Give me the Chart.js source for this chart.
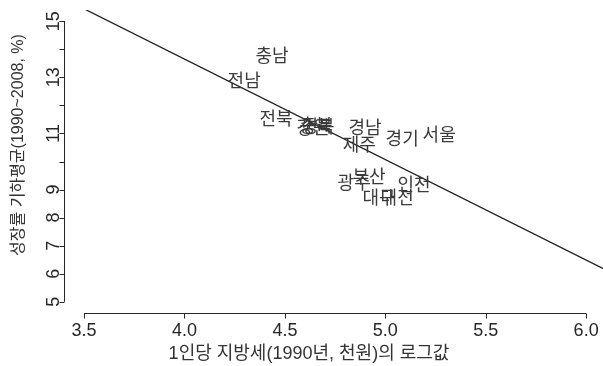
<!DOCTYPE html>
<html>
<head>
<meta charset="utf-8">
<script src="https://cdn.jsdelivr.net/npm/chart.js@4/dist/chart.umd.min.js"></script>
<style>
  html, body { margin: 0; padding: 0; background: #fff; overflow: hidden; }
  canvas { display: block; }
</style>
</head>
<body>
<canvas id="chart" width="603" height="366"></canvas>
<script>
// Regions and their values: log of per-capita local tax (1990) vs. geometric mean growth rate (1990~2008)
const regions = ['충남', '전남', '전북', '강원', '충북', '경북', '경남', '제주', '경기', '서울', '광주', '부산', '인천', '대구', '대전'];
const logTax  = [4.436, 4.297, 4.456, 4.640, 4.655, 4.665, 4.899, 4.870, 5.084, 5.268, 4.845, 4.919, 5.143, 4.969, 5.059];
const growth  = [13.79, 12.90, 11.55, 11.23, 11.30, 11.26, 11.23, 10.62, 10.84, 10.98, 9.27, 9.48, 9.20, 8.74, 8.74];

// Fitted regression line endpoints
const fitX = [3.4, 6.1];
const fitY = [15.80, 6.13];

// Axis ticks
const xTicks = [3.5, 4.0, 4.5, 5.0, 5.5, 6.0];
const yTicks = [5, 6, 7, 8, 9, 10, 11, 12, 13, 14, 15];
const yTickLabels = [5, 6, 7, 8, 9, 11, 13, 15];

const xTitle = '1인당 지방세(1990년, 천원)의 로그값';
const yTitle = '성장률 기하평균(1990~2008, %)';

const FONT_MIX = "'Liberation Sans', 'Noto Sans CJK KR', sans-serif";
const FONT_KR = "'Noto Sans CJK KR', sans-serif";
const INK = '#262626';

// R-style axes: a line spanning first..last tick, outward tick marks, and axis titles
const rStyleAxes = {
  id: 'rStyleAxes',
  afterDatasetsDraw(chart) {
    const ctx = chart.ctx;
    const meta = chart.getDatasetMeta(0);
    ctx.save();
    ctx.font = '18px ' + FONT_KR;
    ctx.fillStyle = '#3a3a3a';
    ctx.textAlign = 'center';
    ctx.textBaseline = 'middle';
    meta.data.forEach((el, i) => ctx.fillText(regions[i], el.x, el.y));
    ctx.restore();
  },
  afterDraw(chart) {
    const { ctx, chartArea, scales: { x, y } } = chart;
    const tick = 5;
    ctx.save();
    ctx.strokeStyle = INK;
    ctx.lineWidth = 1;

    // x axis
    const ay = Math.round(chartArea.bottom) + 0.5;
    ctx.beginPath();
    ctx.moveTo(x.getPixelForValue(xTicks[0]), ay);
    ctx.lineTo(x.getPixelForValue(xTicks[xTicks.length - 1]), ay);
    xTicks.forEach(v => {
      const px = Math.round(x.getPixelForValue(v)) + 0.5;
      ctx.moveTo(px, ay);
      ctx.lineTo(px, ay + tick);
    });
    ctx.stroke();

    // y axis
    const ax = Math.round(chartArea.left) + 0.5;
    ctx.beginPath();
    ctx.moveTo(ax, y.getPixelForValue(yTicks[0]));
    ctx.lineTo(ax, y.getPixelForValue(yTicks[yTicks.length - 1]));
    yTicks.forEach(v => {
      const py = Math.round(y.getPixelForValue(v)) + 0.5;
      ctx.moveTo(ax, py);
      ctx.lineTo(ax - tick, py);
    });
    ctx.stroke();

    // axis titles
    ctx.fillStyle = '#333';
    ctx.textAlign = 'center';
    ctx.textBaseline = 'middle';
    ctx.font = '18px ' + FONT_MIX;
    ctx.fillText(xTitle, 309, 354);
    ctx.translate(19, 145);
    ctx.rotate(-Math.PI / 2);
    ctx.font = '16px ' + FONT_MIX;
    ctx.fillText(yTitle, 0, 0);
    ctx.restore();
  }
};

new Chart(document.getElementById('chart'), {
  type: 'scatter',
  data: {
    datasets: [
      {
        label: '지역',
        data: regions.map((r, i) => ({ x: logTax[i], y: growth[i] })),
        pointRadius: 0,
        pointHoverRadius: 0
      },
      {
        type: 'line',
        label: '회귀선',
        data: fitX.map((v, i) => ({ x: v, y: fitY[i] })),
        showLine: true,
        borderColor: '#222',
        borderWidth: 1.3,
        pointRadius: 0,
        fill: false,
        tension: 0
      }
    ]
  },
  options: {
    responsive: false,
    animation: false,
    events: [],
    layout: { padding: { top: 10, right: 0, bottom: 0, left: 0 } },
    plugins: { legend: { display: false }, tooltip: { enabled: false } },
    scales: {
      x: {
        type: 'linear',
        min: 3.4,
        max: 6.084,
        grid: { display: false },
        border: { display: false },
        afterBuildTicks: s => { s.ticks = xTicks.map(v => ({ value: v })); },
        afterFit: s => { s.height = 53; },
        ticks: {
          padding: -1,
          color: INK,
          font: { family: FONT_MIX, size: 18 },
          maxRotation: 0,
          autoSkip: false,
          callback: v => v.toFixed(1)
        }
      },
      y: {
        type: 'linear',
        min: 4.6,
        max: 15.4,
        grid: { display: false },
        border: { display: false },
        afterBuildTicks: s => { s.ticks = yTicks.map(v => ({ value: v })); },
        afterFit: s => { s.width = 64; },
        ticks: {
          padding: -8,
          color: INK,
          minRotation: 90,
          maxRotation: 90,
          crossAlign: 'center',
          autoSkip: false,
          font: { family: FONT_MIX, size: 18, lineHeight: 1 },
          callback: v => (yTickLabels.includes(v) ? String(v) : '')
        }
      }
    }
  },
  plugins: [rStyleAxes]
});
</script>
</body>
</html>
